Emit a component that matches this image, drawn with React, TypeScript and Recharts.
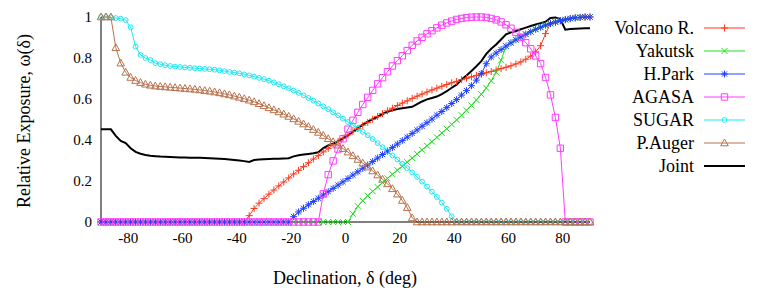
import React from 'react';
import { LineChart, Line, XAxis, YAxis } from 'recharts';

const decl = [
  -90, -88.18, -86.36, -84.55, -82.73, -80.91, -79.09, -77.27, -75.45, -73.64, -71.82,
  -70, -68.18, -66.36, -64.55, -62.73, -60.91, -59.09, -57.27, -55.45, -53.64, -51.82,
  -50, -48.18, -46.36, -44.55, -42.73, -40.91, -39.09, -37.27, -35.45, -33.64, -31.82,
  -30, -28.18, -26.36, -24.55, -22.73, -20.91, -19.09, -17.27, -15.45, -13.64, -11.82,
  -10, -8.18, -6.36, -4.55, -2.73, -0.91, 0.91, 2.73, 4.55, 6.36, 8.18,
  10, 11.82, 13.64, 15.45, 17.27, 19.09, 20.91, 22.73, 24.55, 26.36, 28.18,
  30, 31.82, 33.64, 35.45, 37.27, 39.09, 40.91, 42.73, 44.55, 46.36, 48.18,
  50, 51.82, 53.64, 55.45, 57.27, 59.09, 60.91, 62.73, 64.55, 66.36, 68.18,
  70, 71.82, 73.64, 75.45, 77.27, 79.09, 80.91, 82.73, 84.55, 86.36, 88.18,
  90,
];

const volcano = [
  0, 0, 0, 0, 0, 0, 0, 0, 0, 0, 0,
  0, 0, 0, 0, 0, 0, 0, 0, 0, 0, 0,
  0, 0, 0, 0, 0, 0, 0, 0, 0.031, 0.066, 0.092,
  0.114, 0.136, 0.156, 0.176, 0.195, 0.215, 0.234, 0.252, 0.27, 0.289, 0.307,
  0.324, 0.342, 0.359, 0.376, 0.393, 0.409, 0.425, 0.441, 0.456, 0.472, 0.486,
  0.501, 0.515, 0.529, 0.542, 0.555, 0.568, 0.58, 0.591, 0.603, 0.614, 0.624,
  0.634, 0.644, 0.653, 0.662, 0.671, 0.679, 0.686, 0.694, 0.701, 0.708, 0.715,
  0.721, 0.728, 0.734, 0.741, 0.748, 0.755, 0.762, 0.771, 0.781, 0.794, 0.809,
  0.83, 0.86, 0.919, 0.968, 0.975, 0.982, 0.987, 0.992, 0.996, 0.998, 1.0,
  1.0,
];

const yakutsk = [
  0, 0, 0, 0, 0, 0, 0, 0, 0, 0, 0,
  0, 0, 0, 0, 0, 0, 0, 0, 0, 0, 0,
  0, 0, 0, 0, 0, 0, 0, 0, 0, 0, 0,
  0, 0, 0, 0, 0, 0, 0, 0, 0, 0, 0,
  0, 0, 0, 0, 0, 0, 0, 0.04, 0.077, 0.104, 0.128,
  0.15, 0.171, 0.192, 0.213, 0.233, 0.253, 0.272, 0.292, 0.312, 0.332, 0.352,
  0.372, 0.392, 0.413, 0.434, 0.455, 0.476, 0.498, 0.521, 0.545, 0.569, 0.595,
  0.623, 0.654, 0.689, 0.73, 0.789, 0.858, 0.874, 0.889, 0.903, 0.916, 0.928,
  0.94, 0.95, 0.96, 0.968, 0.975, 0.982, 0.987, 0.992, 0.996, 0.998, 1.0,
  1.0,
];

const hpark = [
  0, 0, 0, 0, 0, 0, 0, 0, 0, 0, 0,
  0, 0, 0, 0, 0, 0, 0, 0, 0, 0, 0,
  0, 0, 0, 0, 0, 0, 0, 0, 0, 0, 0,
  0, 0, 0, 0, 0, 0, 0.026, 0.049, 0.067, 0.084, 0.1,
  0.116, 0.132, 0.148, 0.164, 0.18, 0.196, 0.212, 0.229, 0.245, 0.262, 0.278,
  0.295, 0.312, 0.329, 0.346, 0.363, 0.38, 0.397, 0.414, 0.432, 0.449, 0.467,
  0.484, 0.502, 0.521, 0.539, 0.558, 0.578, 0.597, 0.619, 0.641, 0.665, 0.692,
  0.724, 0.772, 0.805, 0.824, 0.841, 0.858, 0.874, 0.889, 0.903, 0.916, 0.928,
  0.94, 0.95, 0.96, 0.968, 0.975, 0.982, 0.987, 0.992, 0.996, 0.998, 1.0,
  1.0,
];

const agasa = [
  0, 0, 0, 0, 0, 0, 0, 0, 0, 0, 0,
  0, 0, 0, 0, 0, 0, 0, 0, 0, 0, 0,
  0, 0, 0, 0, 0, 0, 0, 0, 0, 0, 0,
  0, 0, 0, 0, 0, 0, 0, 0, 0, 0, 0,
  0, 0.137, 0.231, 0.298, 0.356, 0.406, 0.453, 0.496, 0.535, 0.573, 0.608,
  0.642, 0.674, 0.704, 0.733, 0.761, 0.787, 0.811, 0.836, 0.862, 0.883, 0.901,
  0.918, 0.933, 0.947, 0.96, 0.971, 0.98, 0.988, 0.993, 0.997, 0.999, 1.0,
  1.0, 0.998, 0.993, 0.986, 0.976, 0.962, 0.945, 0.925, 0.9, 0.875, 0.845,
  0.81, 0.773, 0.705, 0.62, 0.51, 0.36, 0, 0, 0, 0, 0,
  0,
];

const sugar = [
  1.0, 1.0, 0.998, 0.995, 0.992, 0.985, 0.95, 0.855, 0.815, 0.8, 0.79,
  0.775, 0.77, 0.765, 0.761, 0.758, 0.756, 0.754, 0.752, 0.75, 0.749, 0.747,
  0.745, 0.743, 0.74, 0.736, 0.732, 0.729, 0.725, 0.72, 0.715, 0.709, 0.703,
  0.697, 0.689, 0.681, 0.672, 0.662, 0.652, 0.641, 0.63, 0.618, 0.605, 0.592,
  0.578, 0.564, 0.55, 0.535, 0.52, 0.504, 0.488, 0.472, 0.456, 0.44, 0.423,
  0.405, 0.385, 0.365, 0.345, 0.325, 0.305, 0.284, 0.263, 0.242, 0.22, 0.197,
  0.173, 0.148, 0.122, 0.095, 0.064, 0.028, 0, 0, 0, 0, 0,
  0, 0, 0, 0, 0, 0, 0, 0, 0, 0, 0,
  0, 0, 0, 0, 0, 0, 0, 0, 0, 0, 0,
  0,
];

const auger = [
  1.0, 1.0, 1.0, 0.85, 0.775, 0.73, 0.705, 0.69, 0.68, 0.672, 0.667,
  0.663, 0.661, 0.659, 0.657, 0.655, 0.653, 0.651, 0.649, 0.647, 0.644, 0.641,
  0.638, 0.634, 0.63, 0.625, 0.62, 0.614, 0.608, 0.601, 0.594, 0.586, 0.577,
  0.567, 0.557, 0.547, 0.537, 0.526, 0.515, 0.503, 0.491, 0.478, 0.465, 0.451,
  0.437, 0.422, 0.406, 0.391, 0.375, 0.358, 0.341, 0.323, 0.305, 0.287, 0.268,
  0.249, 0.229, 0.208, 0.186, 0.162, 0.136, 0.105, 0.07, 0.02, 0, 0,
  0, 0, 0, 0, 0, 0, 0, 0, 0, 0, 0,
  0, 0, 0, 0, 0, 0, 0, 0, 0, 0, 0,
  0, 0, 0, 0, 0, 0, 0, 0, 0, 0, 0,
  0,
];

const joint = [
  0.452, 0.452, 0.452, 0.42, 0.395, 0.385, 0.36, 0.342, 0.333, 0.327, 0.323,
  0.321, 0.319, 0.318, 0.317, 0.316, 0.315, 0.315, 0.314, 0.314, 0.313, 0.312,
  0.311, 0.31, 0.309, 0.307, 0.305, 0.303, 0.3, 0.297, 0.293, 0.302, 0.305,
  0.306, 0.307, 0.308, 0.309, 0.31, 0.311, 0.32, 0.326, 0.329, 0.332, 0.335,
  0.34, 0.36, 0.373, 0.382, 0.395, 0.408, 0.422, 0.44, 0.458, 0.475, 0.49,
  0.502, 0.513, 0.527, 0.537, 0.545, 0.551, 0.555, 0.559, 0.562, 0.575, 0.588,
  0.598, 0.605, 0.612, 0.624, 0.638, 0.655, 0.67, 0.695, 0.715, 0.737, 0.76,
  0.785, 0.82, 0.845, 0.866, 0.89, 0.915, 0.925, 0.932, 0.94, 0.948, 0.956,
  0.963, 0.97, 0.977, 0.995, 0.998, 0.99, 0.938, 0.942, 0.943, 0.944, 0.945,
  0.945,
];

const xTicks = [-80, -60, -40, -20, 0, 20, 40, 60, 80];
const yTicks = [0, 0.2, 0.4, 0.6, 0.8, 1];

const seriesNames = ['Volcano R.', 'Yakutsk', 'H.Park', 'AGASA', 'SUGAR', 'P.Auger', 'Joint'];

const data = decl.map((x, i) => ({
  x,
  volcano: volcano[i],
  yakutsk: yakutsk[i],
  hpark: hpark[i],
  agasa: agasa[i],
  sugar: sugar[i],
  auger: auger[i],
  joint: joint[i],
}));

type Shape = 'plus' | 'cross' | 'star' | 'square' | 'circle' | 'triangle' | 'none';

function markerPath(shape: Shape, cx: number, cy: number): string {
  switch (shape) {
    case 'plus': {
      const s = 3.5;
      return `M${cx - s},${cy}H${cx + s}M${cx},${cy - s}V${cy + s}`;
    }
    case 'cross': {
      const s = 3;
      return `M${cx - s},${cy - s}L${cx + s},${cy + s}M${cx - s},${cy + s}L${cx + s},${cy - s}`;
    }
    case 'star': {
      const s = 3.5;
      const d = 2.6;
      return `M${cx - s},${cy}H${cx + s}M${cx},${cy - s}V${cy + s}M${cx - d},${cy - d}L${cx + d},${cy + d}M${cx - d},${cy + d}L${cx + d},${cy - d}`;
    }
    case 'square': {
      const s = 3.2;
      return `M${cx - s},${cy - s}H${cx + s}V${cy + s}H${cx - s}Z`;
    }
    case 'circle': {
      const r = 2.4;
      return `M${cx - r},${cy}A${r},${r} 0 1,0 ${cx + r},${cy}A${r},${r} 0 1,0 ${cx - r},${cy}Z`;
    }
    case 'triangle': {
      return `M${cx},${cy - 4}L${cx + 3.8},${cy + 2.8}L${cx - 3.8},${cy + 2.8}Z`;
    }
    default:
      return '';
  }
}

const makeDot = (shape: Shape, color: string, tag: string) => (props: any) => {
  const { cx, cy, index } = props;
  if (cx == null || cy == null) return <g key={`${tag}-${index}`} />;
  return (
    <path
      key={`${tag}-${index}`}
      d={markerPath(shape, cx, cy)}
      stroke={color}
      strokeWidth={1}
      fill="none"
    />
  );
};

const series: { key: string; name: string; color: string; shape: Shape; width: number }[] = [
  { key: 'volcano', name: seriesNames[0], color: '#ff3a1e', shape: 'plus', width: 1 },
  { key: 'yakutsk', name: seriesNames[1], color: '#1ee01e', shape: 'cross', width: 1 },
  { key: 'hpark', name: seriesNames[2], color: '#1f40ff', shape: 'star', width: 1 },
  { key: 'agasa', name: seriesNames[3], color: '#ff3cff', shape: 'square', width: 1 },
  { key: 'sugar', name: seriesNames[4], color: '#1ee8f0', shape: 'circle', width: 1 },
  { key: 'auger', name: seriesNames[5], color: '#b8724c', shape: 'triangle', width: 1 },
  { key: 'joint', name: seriesNames[6], color: '#000000', shape: 'none', width: 2 },
];

const FONT = '"Liberation Serif", "Times New Roman", Times, serif';
const tickStyle = { fontSize: 15, fill: '#000', style: { fontFamily: FONT } };
const textStyle = { fontFamily: FONT };
const fmtY = (v: number) => (v === 0 ? '0' : v === 1 ? '1' : String(v));

function LegendOverlay() {
  const rowY = [28, 51, 74, 97, 120, 143, 166];
  return (
    <svg
      width={763}
      height={297}
      style={{ position: 'absolute', left: 0, top: 0, pointerEvents: 'none' }}
    >
      {series.map((s, i) => (
        <g key={s.key}>
          <text
            x={694}
            y={rowY[i] + 6}
            textAnchor="end"
            fontSize={18}
            style={textStyle}
            fill="#000"
          >
            {s.name}
          </text>
          <line x1={704} x2={745} y1={rowY[i]} y2={rowY[i]} stroke={s.color} strokeWidth={s.width} />
          {s.shape !== 'none' && (
            <path d={markerPath(s.shape, 724.5, rowY[i])} stroke={s.color} strokeWidth={1} fill="none" />
          )}
        </g>
      ))}
      <text
        x={345}
        y={284}
        textAnchor="middle"
        fontSize={18}
        style={textStyle}
        fill="#000"
      >
        Declination, δ (deg)
      </text>
      <text
        x={0}
        y={0}
        transform="translate(30,121) rotate(-90)"
        textAnchor="middle"
        fontSize={18}
        style={textStyle}
        fill="#000"
      >
        Relative Exposure, ω(δ)
      </text>
    </svg>
  );
}

export default function App() {
  return (
    <div style={{ position: 'absolute', left: 0, top: 0, width: 763, height: 297, background: '#fff', fontFamily: FONT }}>
      <LineChart
        width={763}
        height={297}
        data={data}
        margin={{ top: 17, right: 173, bottom: 45, left: 41 }}
        style={{ fontFamily: FONT }}
      >
        <XAxis
          xAxisId="main"
          type="number"
          dataKey="x"
          domain={[-90, 90]}
          ticks={xTicks}
          tickLine={false}
          tickSize={0}
          tickMargin={10}
          axisLine={{ stroke: '#000', strokeWidth: 1 }}
          tick={tickStyle}
          height={30}
        />
        <XAxis
          xAxisId="bottomTicks"
          type="number"
          dataKey="x"
          domain={[-90, 90]}
          ticks={xTicks}
          orientation="bottom"
          mirror
          tick={false}
          tickSize={6}
          tickLine={{ stroke: '#000' }}
          axisLine={false}
          height={0}
        />
        <XAxis
          xAxisId="top"
          type="number"
          dataKey="x"
          domain={[-90, 90]}
          ticks={xTicks}
          orientation="top"
          mirror
          tick={false}
          tickSize={6}
          tickLine={{ stroke: '#000' }}
          axisLine={{ stroke: '#000', strokeWidth: 1 }}
          height={0}
        />
        <YAxis
          yAxisId="main"
          type="number"
          domain={[0, 1]}
          ticks={yTicks}
          tickFormatter={fmtY}
          tickLine={false}
          tickSize={0}
          tickMargin={9}
          axisLine={{ stroke: '#000', strokeWidth: 1 }}
          tick={tickStyle}
          width={60}
        />
        <YAxis
          yAxisId="leftTicks"
          type="number"
          domain={[0, 1]}
          ticks={yTicks}
          orientation="left"
          mirror
          tick={false}
          tickSize={6}
          tickLine={{ stroke: '#000' }}
          axisLine={false}
          width={0}
        />
        <YAxis
          yAxisId="right"
          type="number"
          domain={[0, 1]}
          ticks={yTicks}
          orientation="right"
          mirror
          tick={false}
          tickSize={6}
          tickLine={{ stroke: '#000' }}
          axisLine={{ stroke: '#000', strokeWidth: 1 }}
          width={0}
        />
        {series.map((s) => (
          <Line
            key={s.key}
            xAxisId="main"
            yAxisId="main"
            type="linear"
            dataKey={s.key}
            name={s.name}
            stroke={s.color}
            strokeWidth={s.width}
            dot={s.shape === 'none' ? false : makeDot(s.shape, s.color, s.key)}
            activeDot={false}
            isAnimationActive={false}
          />
        ))}
      </LineChart>
      <LegendOverlay />
    </div>
  );
}
